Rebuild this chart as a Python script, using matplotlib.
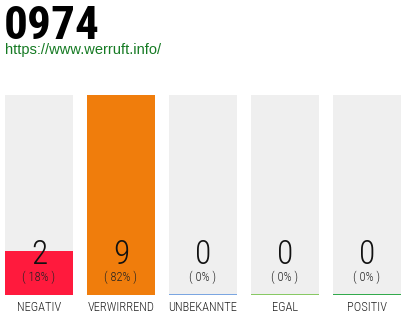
import matplotlib
matplotlib.use("Agg")
import matplotlib.pyplot as plt
from matplotlib import font_manager
from matplotlib.transforms import blended_transform_factory

categories = ["NEGATIV", "VERWIRREND", "UNBEKANNTE", "EGAL", "POSITIV"]
counts = [2, 9, 0, 0, 0]
percents = [18, 82, 0, 0, 0]
bar_colors = ["#ff1a3d", "#f07d0c", "#6f9fe0", "#7ec656", "#1fa33b"]

title = "0974"
url = "https://www.werruft.info/"

# pick a condensed font if one is there
names = {f.name for f in font_manager.fontManager.ttflist}
cond = [n for n in ["Roboto Condensed", "Liberation Sans Narrow", "DejaVu Sans"] if n in names]
thin = cond[0]

fig = plt.figure(figsize=(4.1, 3.2), dpi=100)
ax = fig.add_axes([5 / 410, 25 / 320, 396 / 410, 200 / 320])

w = 68 / 82
x = list(range(len(categories)))
top = max(counts)

ax.bar(x, [top] * len(x), width=w, color="#efefef", zorder=1)
ax.bar(x, counts, width=w, color=bar_colors, zorder=2)
# thin coloured base line under every bar
for xi, c in zip(x, bar_colors):
    ax.plot([xi - w / 2, xi + w / 2], [0, 0], color=c, lw=1.3, zorder=3,
            solid_capstyle="butt")

ax.set_xlim(-w / 2, len(x) - 1 + w / 2)
ax.set_ylim(0, top)
ax.axis("off")

tr = blended_transform_factory(ax.transData, ax.transAxes)
for xi, n, p, lab in zip(x, counts, percents, categories):
    ax.text(xi, 0.2, str(n), transform=tr, ha="center", va="center",
            fontsize=24, family=thin, fontweight="light", color="#111111", zorder=4)
    ax.text(xi, 0.088, f"( {p}% )", transform=tr, ha="center", va="center",
            fontsize=9, family=thin, fontweight="light", color="#222222", zorder=4)
    ax.text(xi, -0.062, lab, transform=tr, ha="center", va="center",
            fontsize=9, family=thin, fontweight="light", color="#222222")

fig.text(4 / 410, 1 - 39 / 320, title, ha="left", va="baseline", fontsize=34,
         family=thin, fontweight="bold", color="#000000")
fig.text(5 / 410, 1 - 54 / 320, url, ha="left", va="baseline", fontsize=10.5,
         family="Liberation Sans", color="#157a23")

fig.savefig("out.png", dpi=100, facecolor="white")
